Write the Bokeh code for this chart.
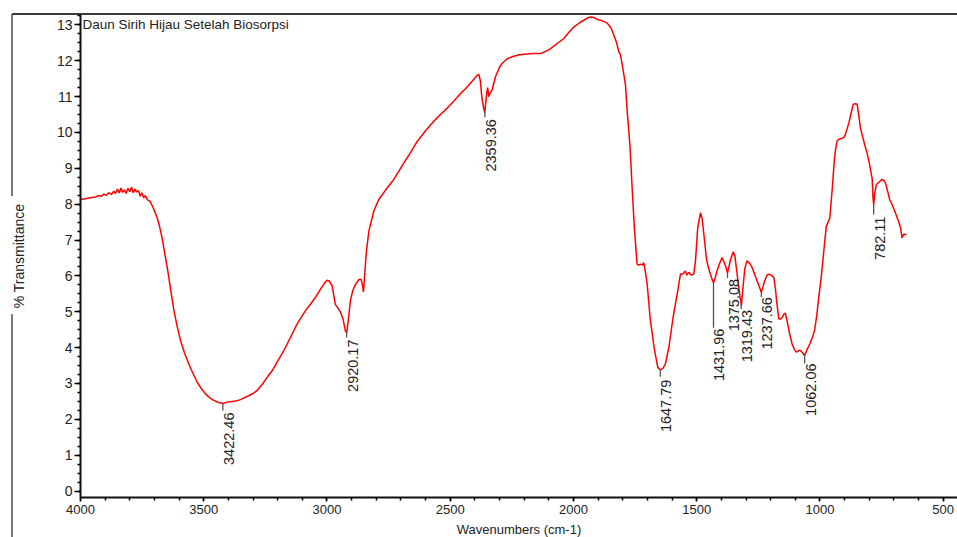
import numpy as np
from bokeh.plotting import figure
from bokeh.models import Range1d, SingleIntervalTicker, Label, ColumnDataSource
from bokeh.core.properties import value
from bokeh.embed import file_html
from bokeh.resources import INLINE

# FTIR spectrum: wavenumber (cm-1) and % transmittance
wavenumber = [
    4000, 3980, 3960, 3940, 3925, 3915, 3905, 3895, 3885, 3875, 3865, 3858, 3850, 3843,
    3836, 3829, 3822, 3815, 3808, 3800, 3793, 3786, 3779, 3772, 3765, 3758, 3751, 3744,
    3737, 3728, 3718, 3705, 3689, 3680, 3669, 3660, 3648, 3635, 3621, 3608, 3594, 3578,
    3561, 3545, 3527, 3510, 3493, 3476, 3459, 3440, 3422, 3405, 3385, 3365, 3351, 3320,
    3300, 3283, 3260, 3240, 3222, 3200, 3185, 3168, 3145, 3121, 3095, 3080, 3067, 3045,
    3026, 3010, 2999, 2990, 2979, 2966, 2955, 2945, 2935, 2925, 2920, 2912, 2905, 2895,
    2884, 2870, 2862, 2856, 2852, 2848, 2840, 2830, 2810, 2790, 2756, 2729, 2688, 2660,
    2634, 2600, 2567, 2540, 2512, 2485, 2458, 2438, 2418, 2400, 2391, 2384, 2378, 2372,
    2365, 2360, 2355, 2352, 2348, 2344, 2338, 2330, 2316, 2300, 2289, 2270, 2249, 2220,
    2188, 2160, 2134, 2110, 2093, 2070, 2039, 2020, 1999, 1975, 1944, 1930, 1915, 1904,
    1885, 1863, 1848, 1836, 1825, 1816, 1809, 1800, 1789, 1782, 1771, 1762, 1753, 1742,
    1735, 1728, 1720, 1715, 1708, 1701, 1688, 1671, 1658, 1647, 1637, 1627, 1613, 1596,
    1577, 1566, 1556, 1546, 1540, 1532, 1522, 1512, 1505, 1496, 1485, 1478, 1471, 1460,
    1451, 1440, 1432, 1425, 1417, 1407, 1397, 1390, 1383, 1375, 1368, 1363, 1352, 1345,
    1336, 1328, 1319, 1312, 1305, 1296, 1285, 1275, 1265, 1255, 1245, 1238, 1231, 1225,
    1215, 1208, 1197, 1187, 1180, 1176, 1167, 1160, 1153, 1145, 1140, 1131, 1122, 1113,
    1104, 1095, 1087, 1079, 1070, 1062, 1052, 1041, 1030, 1022, 1013, 1005, 995, 987,
    980, 974, 967, 960, 951, 941, 935, 930, 920, 910, 903, 897, 890, 883,
    875, 865, 857, 849, 842, 835, 829, 820, 809, 800, 792, 788, 785, 782,
    778, 771, 760, 748, 740, 734, 725, 717, 705, 694, 683, 673, 667, 660,
    655, 649,
]
transmittance = [
    8.13, 8.15, 8.18, 8.20, 8.24, 8.22, 8.28, 8.25, 8.32, 8.27, 8.36, 8.30, 8.42, 8.31,
    8.45, 8.33, 8.40, 8.30, 8.44, 8.35, 8.47, 8.32, 8.42, 8.34, 8.38, 8.22, 8.32, 8.18,
    8.24, 8.12, 8.08, 7.90, 7.62, 7.40, 7.06, 6.70, 6.23, 5.65, 5.03, 4.60, 4.19, 3.85,
    3.55, 3.30, 3.04, 2.86, 2.71, 2.60, 2.53, 2.47, 2.44, 2.48, 2.50, 2.52, 2.55, 2.65,
    2.72, 2.81, 3.00, 3.20, 3.36, 3.62, 3.80, 4.01, 4.33, 4.66, 4.95, 5.10, 5.21, 5.42,
    5.63, 5.80, 5.88, 5.85, 5.72, 5.20, 5.10, 4.98, 4.80, 4.45, 4.42, 4.85, 5.31, 5.60,
    5.77, 5.90, 5.91, 5.75, 5.55, 5.95, 6.69, 7.25, 7.81, 8.13, 8.45, 8.69, 9.15, 9.45,
    9.75, 10.05, 10.31, 10.50, 10.68, 10.88, 11.09, 11.22, 11.37, 11.52, 11.60, 11.62, 11.45, 11.00,
    10.70, 10.55, 10.90, 11.10, 11.25, 11.00, 11.10, 11.19, 11.56, 11.82, 11.93, 12.05, 12.11, 12.17,
    12.19, 12.20, 12.20, 12.27, 12.34, 12.46, 12.62, 12.78, 12.94, 13.06, 13.19, 13.22, 13.20, 13.16,
    13.12, 13.05, 12.92, 12.71, 12.50, 12.25, 12.16, 11.80, 11.33, 10.58, 9.66, 8.45, 7.34, 6.33,
    6.30, 6.33, 6.30, 6.37, 6.10, 5.77, 4.75, 3.92, 3.45, 3.38, 3.42, 3.55, 4.01, 4.84,
    5.58, 6.05, 6.05, 6.14, 6.02, 6.10, 6.02, 6.05, 6.42, 7.34, 7.76, 7.60, 7.16, 6.45,
    6.19, 5.95, 5.81, 5.95, 6.15, 6.35, 6.51, 6.40, 6.28, 6.08, 6.30, 6.45, 6.67, 6.55,
    6.05, 5.60, 5.17, 5.70, 6.20, 6.42, 6.35, 6.23, 6.05, 5.86, 5.68, 5.54, 5.70, 5.85,
    6.02, 6.05, 6.02, 5.95, 5.60, 5.31, 4.80, 4.80, 4.84, 4.95, 4.95, 4.66, 4.35, 4.10,
    3.95, 3.87, 3.92, 3.92, 3.85, 3.78, 3.95, 4.10, 4.30, 4.47, 4.90, 5.40, 5.95, 6.51,
    7.00, 7.39, 7.50, 7.62, 8.36, 9.29, 9.60, 9.77, 9.82, 9.84, 9.86, 9.94, 10.10, 10.26,
    10.50, 10.79, 10.80, 10.79, 10.44, 10.10, 9.94, 9.70, 9.43, 9.15, 8.85, 8.70, 8.20, 7.98,
    8.30, 8.55, 8.62, 8.69, 8.66, 8.59, 8.35, 8.13, 7.95, 7.76, 7.55, 7.34, 7.06, 7.17,
    7.15, 7.16,
]

# Annotated peak positions (cm-1)
peak_labels = ["3422.46", "2920.17", "2359.36", "1647.79", "1431.96",
               "1375.08", "1319.43", "1237.66", "1062.06", "782.11"]
peak_wn = [float(s) for s in peak_labels]

# Per-peak marker length and label gap (screen px)
marker_len = [7, 5, 6, 7, 45, 5, 4, 5, 8, 10]
label_gap = [9, 7, 8, 10, 46, 6, 5, 5, 8, 12]

x_ticks_interval = 500
y_ticks_interval = 1

FONT = "Liberation Sans"
TEXT_COLOR = "#222222"

frame_lines = {
    "background-image": "linear-gradient(#3c3c3c,#3c3c3c), linear-gradient(#7a7a7a,#7a7a7a), linear-gradient(#7a7a7a,#7a7a7a)",
    "background-size": "945px 2px, 2px 182px, 2px 225px",
    "background-position": "12px 13px, 11px 14px, 11px 314px",
    "background-repeat": "no-repeat",
}

p = figure(
    width=957, height=537,
    frame_width=877, frame_height=483,
    min_border_left=80, min_border_top=14, min_border_right=0, min_border_bottom=40,
    x_range=Range1d(4000, 442), y_range=Range1d(-0.18, 13.29),
    output_backend="svg", toolbar_location=None,
    background_fill_color=None, border_fill_color=None,
    outline_line_color=None,
    styles=frame_lines,
)
p.grid.visible = False

# spectrum trace
p.line(wavenumber, transmittance, line_color="#ff0000", line_width=1.5)

# peak markers and rotated labels
wn_asc = np.array(wavenumber[::-1], dtype=float)
tr_asc = np.array(transmittance[::-1], dtype=float)
peak_y = np.interp(peak_wn, wn_asc, tr_asc)
src = ColumnDataSource(dict(x=peak_wn, y=peak_y, text=peak_labels,
                            mlen=marker_len, gap=label_gap))
p.ray(x="x", y="y", length="mlen", length_units="screen", angle=-np.pi / 2,
      line_color="#555555", line_width=1.3, source=src)
p.text(x="x", y="y", text="text", source=src, angle=np.pi / 2,
       text_align="right", text_baseline="top", x_offset=1, y_offset="gap",
       text_font=value(FONT), text_font_size="14.5px", text_color=TEXT_COLOR)

# sample name
p.add_layout(Label(x=4000, y=13, text="Daun Sirih Hijau Setelah Biosorpsi",
                   x_offset=2, text_baseline="middle",
                   text_font=FONT, text_font_size="13.5px", text_color=TEXT_COLOR))

# x axis
xa = p.xaxis[0]
xa.ticker = SingleIntervalTicker(interval=x_ticks_interval, num_minor_ticks=5)
xa.axis_label = "Wavenumbers (cm-1)"
xa.axis_line_width = 2
xa.axis_line_color = "#111111"
xa.major_tick_in = 0
xa.major_tick_out = 4
xa.minor_tick_in = 0
xa.minor_tick_out = 3
xa.major_tick_line_width = 1.5
xa.minor_tick_line_width = 1.5
xa.major_label_standoff = 3
xa.axis_label_standoff = 5
xa.major_label_text_font = FONT
xa.major_label_text_font_size = "13px"
xa.major_label_text_color = TEXT_COLOR
xa.axis_label_text_font = FONT
xa.axis_label_text_font_size = "13px"
xa.axis_label_text_font_style = "normal"
xa.axis_label_text_color = TEXT_COLOR

# y axis
ya = p.yaxis[0]
ya.ticker = SingleIntervalTicker(interval=y_ticks_interval, num_minor_ticks=4)
ya.axis_label = "% Transmittance"
ya.axis_line_width = 2
ya.axis_line_color = "#111111"
ya.major_tick_in = 0
ya.major_tick_out = 6
ya.minor_tick_in = 0
ya.minor_tick_out = 3
ya.major_tick_line_width = 1.5
ya.minor_tick_line_width = 1.5
ya.major_label_standoff = 2
ya.axis_label_standoff = 27
ya.major_label_text_font = FONT
ya.major_label_text_font_size = "14px"
ya.major_label_text_color = TEXT_COLOR
ya.axis_label_text_font = FONT
ya.axis_label_text_font_size = "14px"
ya.axis_label_text_font_style = "normal"
ya.axis_label_text_color = TEXT_COLOR

open("out.html", "w").write(file_html(p, INLINE))
